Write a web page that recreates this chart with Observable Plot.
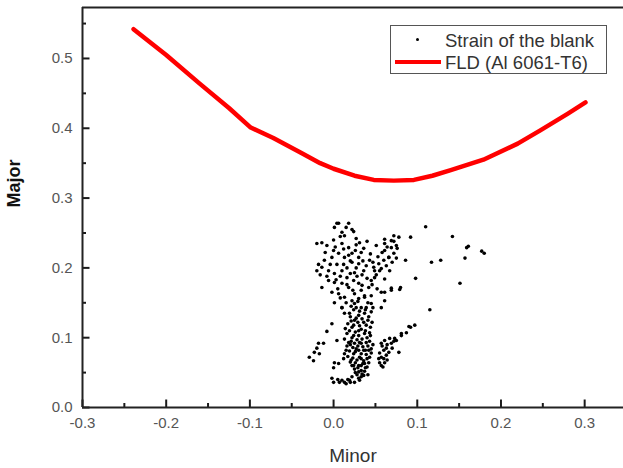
<!DOCTYPE html>
<html>
<head>
<meta charset="utf-8">
<script src="https://cdn.jsdelivr.net/npm/d3@7"></script>
<script src="https://cdn.jsdelivr.net/npm/@observablehq/plot@0.6"></script>
<style>
  html, body { margin: 0; padding: 0; background: #fff; overflow: hidden; }
  #wrap { position: relative; width: 623px; height: 468px; font-family: "Liberation Sans", Arial, sans-serif; }
  #legend { position: absolute; left: 390px; top: 25px; width: 215px; height: 47px; border: 1px solid #555; background: #fff; }
  #legend .t { position: absolute; left: 54px; font-size: 18.5px; color: #333; white-space: nowrap; line-height: 1; }
  #legend .dot { position: absolute; left: 25px; top: 12px; width: 3px; height: 3px; border-radius: 50%; background: #000; }
  #legend .ln { position: absolute; left: 4px; top: 34px; width: 46px; height: 4px; background: #ff0000; }
</style>
</head>
<body>
<div id="wrap"></div>
<script>
// FLD curve (Al 6061-T6)
const fldMinor = [-0.239,-0.200,-0.160,-0.125,-0.099,-0.072,-0.039,-0.016,0.000,0.025,0.048,0.072,0.096,0.118,0.140,0.179,0.220,0.247,0.280,0.301];
const fldMajor = [0.542,0.505,0.464,0.429,0.401,0.386,0.365,0.350,0.342,0.332,0.326,0.325,0.326,0.332,0.340,0.355,0.378,0.397,0.421,0.437];

// Strain of the blank: [minor, major]
const strainPoints = [
  [0.001,0.258],[0.006,0.264],[0.018,0.264],[0.010,0.251],[0.013,0.246],[0.022,0.255],[0.024,0.252],
  [-0.020,0.235],[-0.014,0.236],[-0.008,0.232],[0.000,0.225],[0.010,0.235],[0.018,0.229],[0.031,0.236],
  [0.033,0.222],[-0.011,0.211],[-0.002,0.215],[0.006,0.221],[0.013,0.215],[0.022,0.221],[0.022,0.208],
  [0.030,0.206],[0.036,0.196],[0.025,0.193],[-0.020,0.196],[-0.014,0.201],[-0.006,0.196],[0.001,0.192],
  [0.010,0.196],[0.016,0.186],[0.024,0.182],[0.030,0.178],[0.033,0.168],[0.025,0.163],[0.018,0.172],
  [0.010,0.178],[0.001,0.179],[-0.006,0.182],[-0.014,0.172],[-0.002,0.165],[0.006,0.163],[0.013,0.158],
  [0.022,0.153],[0.030,0.156],[0.037,0.158],[0.042,0.172],[0.045,0.182],[0.049,0.196],[0.054,0.206],
  [0.060,0.211],[0.066,0.215],[0.072,0.221],[0.061,0.225],[0.069,0.229],[0.061,0.235],[0.069,0.239],
  [0.078,0.244],[0.051,0.232],[0.057,0.199],[0.063,0.203],[0.049,0.186],[0.057,0.165],[0.069,0.168],
  [0.061,0.153],[0.045,0.149],[0.039,0.143],[0.027,0.143],[0.010,0.143],[0.043,0.211],[0.039,0.203],
  [0.048,0.201],
  [0.001,0.150],[0.010,0.143],[0.025,0.149],[0.033,0.143],[0.057,0.143],[0.019,0.135],[0.030,0.132],
  [0.037,0.135],[0.025,0.125],[0.036,0.122],[0.039,0.118],[0.022,0.115],[0.030,0.110],[0.016,0.106],
  [0.022,0.100],[0.030,0.103],[0.037,0.106],[0.043,0.107],[0.018,0.093],[0.025,0.092],[0.033,0.092],
  [0.039,0.093],[0.030,0.082],[0.036,0.082],[0.042,0.082],[0.024,0.077],[0.013,0.077],[0.033,0.070],
  [0.037,0.063],[0.030,0.060],[0.022,0.060],[0.012,0.070],[0.006,0.063],[0.001,0.064],[0.000,0.057],
  [0.033,0.053],[0.036,0.046],[0.030,0.042],[0.025,0.036],[0.019,0.039],[0.013,0.036],[0.010,0.039],
  [-0.002,0.042],[0.000,0.036],
  [-0.002,0.120],[-0.008,0.109],[0.004,0.096],[-0.018,0.092],[-0.012,0.092],[-0.020,0.085],[-0.023,0.079],
  [-0.017,0.077],[-0.029,0.072],[-0.024,0.067],
  [0.057,0.092],[0.061,0.096],[0.067,0.099],[0.073,0.099],[0.060,0.082],[0.063,0.085],[0.057,0.072],
  [0.063,0.075],[0.055,0.064],[0.061,0.064],[0.057,0.060],[0.069,0.092],[0.078,0.079],[0.081,0.106],
  [0.075,0.096],[0.081,0.103],[0.087,0.107],
  [0.110,0.259],[0.142,0.245],[0.161,0.231],[0.159,0.229],[0.177,0.224],[0.180,0.221],[0.157,0.214],
  [0.128,0.211],[0.117,0.208],[0.151,0.178],[0.098,0.185],[0.115,0.140],[0.092,0.244],[0.086,0.211],
  [0.072,0.246],[0.072,0.238],[0.061,0.241],[0.076,0.228],[0.066,0.215],[0.080,0.172],[0.079,0.169],
  [0.069,0.171],[0.061,0.165],[0.097,0.118],[0.092,0.115],[0.090,0.116],
  [0.020,0.130],[0.027,0.128],[0.034,0.127],[0.041,0.125],[0.017,0.120],[0.024,0.118],[0.031,0.117],
  [0.044,0.115],[0.019,0.110],[0.026,0.108],[0.040,0.100],[0.028,0.097],[0.021,0.095],[0.034,0.098],
  [0.043,0.095],[0.016,0.088],[0.023,0.086],[0.029,0.088],[0.035,0.087],[0.041,0.088],[0.019,0.081],
  [0.026,0.080],[0.033,0.077],[0.039,0.076],[0.045,0.078],[0.017,0.073],[0.023,0.071],[0.028,0.068],
  [0.036,0.067],[0.040,0.070],[0.020,0.065],[0.026,0.064],[0.033,0.060],[0.040,0.058],[0.025,0.055],
  [0.030,0.051],[0.037,0.052],[0.028,0.047],[0.033,0.044],[0.022,0.044],[0.017,0.040],[0.005,0.040],
  [0.007,0.036],
  [0.004,0.205],[0.016,0.200],[0.028,0.188],[0.020,0.192],[0.008,0.188],[-0.004,0.205],[0.012,0.227],
  [0.027,0.242],[0.036,0.228],[0.044,0.220],[0.053,0.216],[0.058,0.222],[0.064,0.230],[0.070,0.208],
  [0.075,0.214],[0.051,0.190],[0.040,0.185],[0.046,0.176],[0.037,0.160],[0.029,0.152],[0.041,0.150],
  [0.015,0.150],[0.005,0.170],[-0.008,0.188],[-0.018,0.205],[0.020,0.210],[0.030,0.215],[0.008,0.245],
  [0.000,0.240],[0.015,0.258],[0.004,0.264],[0.027,0.233],
  [0.024,0.140],[0.031,0.138],[0.038,0.140],[0.045,0.137],[0.021,0.124],[0.029,0.122],[0.046,0.122],
  [0.014,0.113],[0.033,0.112],[0.038,0.110],[0.024,0.103],[0.044,0.103],[0.013,0.098],[0.031,0.093],
  [0.047,0.090],[0.020,0.090],[0.027,0.084],[0.038,0.082],[0.045,0.084],[0.015,0.082],[0.031,0.072],
  [0.043,0.072],[0.021,0.068],[0.035,0.063],[0.042,0.064],[0.024,0.060],[0.029,0.057],[0.038,0.057],
  [0.034,0.048],[0.041,0.047],[0.026,0.050],[0.031,0.039],[0.020,0.036],[0.015,0.034],
  [0.058,0.088],[0.064,0.090],[0.055,0.078],[0.060,0.070],[0.066,0.079],[0.054,0.070],[0.059,0.058],
  [0.064,0.068],[0.070,0.085],[0.072,0.095],
  [0.016,0.176],[0.023,0.168],[0.008,0.157],[0.003,0.183],[0.027,0.200],[0.034,0.190],[0.018,0.218],
  [0.026,0.225],[0.035,0.210],[0.047,0.208],[0.055,0.196],[0.061,0.184],[0.052,0.170],[0.045,0.160],
  [0.034,0.175],[0.012,0.205],[-0.010,0.222],[-0.016,0.190],[0.002,0.230],[0.040,0.238],[0.067,0.196],
  [0.075,0.232],[0.021,0.145],[0.047,0.143],[0.013,0.135],[0.042,0.130]
];

const xMajorTicks = [-0.3,-0.2,-0.1,0.0,0.1,0.2,0.3];
const xMinorTicks = [-0.25,-0.15,-0.05,0.05,0.15,0.25];
const yMajorTicks = [0.0,0.1,0.2,0.3,0.4,0.5];
const yMinorTicks = [0.05,0.15,0.25,0.35,0.45,0.55];
const xDomain = [-0.3, 0.3464];
const yDomain = [0, 0.573];
const xTitle = "Minor";
const yTitle = "Major";

const fld = fldMinor.map((m, i) => ({minor: m, major: fldMajor[i]}));
const strain = strainPoints.map(([minor, major]) => ({minor, major}));
const fmt = d3.formatLocale({decimal: ".", thousands: ",", grouping: [3], currency: ["", ""], minus: "-"}).format(".1f");

const W = 623, H = 468, mL = 82, mR = 0, mT = 7, mB = 61;
const frameW = W - mL - mR, frameH = H - mT - mB;
// tick lengths in pixels, converted to data units
const yPerPx = (yDomain[1] - yDomain[0]) / frameH;
const xPerPx = (xDomain[1] - xDomain[0]) / frameW;
const majorLen = 7.5, minorLen = 4;

const chart = Plot.plot({
  width: W,
  height: H,
  marginLeft: mL,
  marginRight: mR,
  marginTop: mT,
  marginBottom: mB,
  style: {fontFamily: "Liberation Sans, Arial, sans-serif", background: "#fff"},
  x: {domain: xDomain},
  y: {domain: yDomain},
  marks: [
    // tick labels
    Plot.axisX(xMajorTicks, {tickSize: 0, tickPadding: 10, tickFormat: fmt, fontSize: 15, fill: "#555", label: null}),
    Plot.axisY(yMajorTicks, {tickSize: 0, tickPadding: 10, tickFormat: fmt, fontSize: 15, fill: "#555", label: null}),
    // inward tick marks
    Plot.ruleX(xMajorTicks, {x: d => d, y1: yDomain[0], y2: yDomain[0] + majorLen * yPerPx, stroke: "#1a1a1a", strokeWidth: 2}),
    Plot.ruleX(xMinorTicks, {x: d => d, y1: yDomain[0], y2: yDomain[0] + minorLen * yPerPx, stroke: "#1a1a1a", strokeWidth: 2}),
    Plot.ruleY(yMajorTicks, {y: d => d, x1: xDomain[0], x2: xDomain[0] + majorLen * xPerPx, stroke: "#1a1a1a", strokeWidth: 2}),
    Plot.ruleY(yMinorTicks, {y: d => d, x1: xDomain[0], x2: xDomain[0] + minorLen * xPerPx, stroke: "#1a1a1a", strokeWidth: 2}),
    // frame lines
    Plot.ruleX([xDomain[0]], {stroke: "#222", strokeWidth: 2}),
    Plot.ruleY([yDomain[0]], {stroke: "#222", strokeWidth: 2}),
    Plot.ruleY([yDomain[1]], {stroke: "#222", strokeWidth: 2}),
    // data
    Plot.dot(strain, {x: "minor", y: "major", r: 1.8, fill: "#000", stroke: null}),
    Plot.line(fld, {x: "minor", y: "major", stroke: "#ff0000", strokeWidth: 4.5, strokeLinejoin: "round", strokeLinecap: "round"}),
    // axis titles
    Plot.text([xTitle], {frameAnchor: "bottom", dy: 48, text: d => d, fontSize: 19, fill: "#333", lineAnchor: "middle"}),
    Plot.text([yTitle], {frameAnchor: "left", dx: -68, rotate: -90, text: d => d, fontSize: 18, fontWeight: "bold", fill: "#111"})
  ]
});

const wrap = document.getElementById("wrap");
wrap.appendChild(chart);
const legend = document.createElement("div");
legend.id = "legend";
legend.innerHTML = '<div class="dot"></div><span class="t" style="top:6px">Strain of the blank</span>' +
  '<div class="ln"></div><span class="t" style="top:28px">FLD (Al 6061-T6)</span>';
wrap.appendChild(legend);
</script>
</body>
</html>
